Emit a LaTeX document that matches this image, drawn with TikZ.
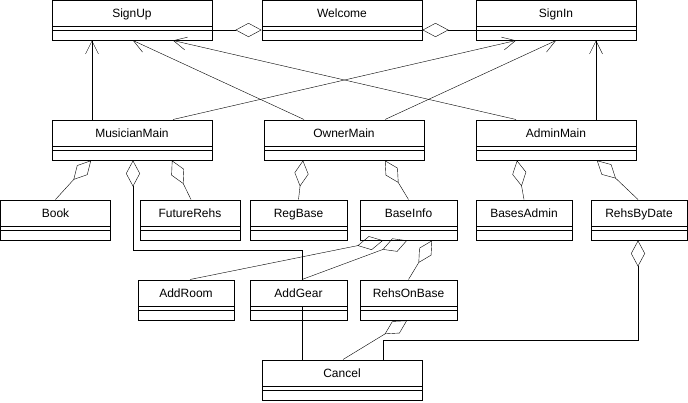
\documentclass[tikz,border=0pt]{standalone}
\usepackage{fontspec}
\setmainfont{Liberation Sans}
\usetikzlibrary{arrows.meta,backgrounds}

\begin{document}
\begin{tikzpicture}[x=1pt,y=-1pt,line width=1pt,
	cls/.style={draw, minimum height=40pt, inner sep=0pt,
		text height=9pt, text depth=14pt,
		font=\fontsize{12pt}{14pt}\selectfont,
		path picture={
			\fill[white] (path picture bounding box.north west) rectangle ([yshift=-26pt]path picture bounding box.north east);
			\draw ([yshift=-26pt]path picture bounding box.north west) -- ([yshift=-26pt]path picture bounding box.north east);
			\draw ([yshift=-30pt]path picture bounding box.north west) -- ([yshift=-30pt]path picture bounding box.north east);
		}},
	assoc/.style={-{Straight Barb[length=13pt,width=13pt]}},
	aggr/.style={-{Diamond[open,length=26pt,width=14pt]}},
	raggr/.style={{Diamond[open,length=26pt,width=14pt]}-}]
			\useasboundingbox (0,0) rectangle (688,402);
			% classes
			\node[cls, minimum width=160pt] (signup) at (132,20) {SignUp};
			\node[cls, minimum width=160pt] (welcome) at (342,20) {Welcome};
			\node[cls, minimum width=160pt] (signin) at (556,20) {SignIn};
			\node[cls, minimum width=160pt] (musicianmain) at (132,140) {MusicianMain};
			\node[cls, minimum width=160pt] (ownermain) at (344,140) {OwnerMain};
			\node[cls, minimum width=160pt] (adminmain) at (556,140) {AdminMain};
			\node[cls, minimum width=110pt] (book) at (55.5,220) {Book};
			\node[cls, minimum width=100pt] (futurerehs) at (190,220) {FutureRehs};
			\node[cls, minimum width=97pt] (regbase) at (298.5,220) {RegBase};
			\node[cls, minimum width=97pt] (baseinfo) at (408.5,220) {BaseInfo};
			\node[cls, minimum width=96pt] (basesadmin) at (524,220) {BasesAdmin};
			\node[cls, minimum width=96pt] (rehsbydate) at (639,220) {RehsByDate};
			\node[cls, minimum width=96pt] (addroom) at (186,300) {AddRoom};
			\node[cls, minimum width=97pt] (addgear) at (298.5,300) {AddGear};
			\node[cls, minimum width=97pt] (rehsonbase) at (408.5,300) {RehsOnBase};
			\node[cls, minimum width=160pt] (cancel) at (342,380) {Cancel};

			\begin{scope}[on background layer]
			% welcome
			\draw[aggr] ([yshift=-10pt]signup.east) -- ([yshift=-10pt]welcome.west);
			\draw[aggr] ([yshift=-10pt]signin.west) -- ([yshift=-10pt]welcome.east);
			% sign up / sign in
			\draw[assoc] ([xshift=-40pt]musicianmain.north) -- ([xshift=-40pt]signup.south);
			\draw[assoc] ([xshift=-40pt]ownermain.north) -- ([xshift=1pt]signup.south);
			\draw[assoc] ([xshift=-40pt]adminmain.north) -- ([xshift=41pt]signup.south);
			\draw[assoc] ([xshift=41pt]musicianmain.north) -- ([xshift=-40pt]signin.south);
			\draw[assoc] ([xshift=41pt]ownermain.north) -- (signin.south);
			\draw[assoc] ([xshift=40pt]adminmain.north) -- ([xshift=40pt]signin.south);
			% main windows
			\draw[aggr] (book.north) -- ([xshift=-41pt]musicianmain.south);
			\draw[aggr] ([xshift=1pt]futurerehs.north) -- ([xshift=40pt]musicianmain.south);
			\draw[aggr] (regbase.north) -- ([xshift=-41pt]ownermain.south);
			\draw[aggr] (baseinfo.north) -- ([xshift=41pt]ownermain.south);
			\draw[aggr] (basesadmin.north) -- ([xshift=-39pt]adminmain.south);
			\draw[aggr] ([xshift=-1pt]rehsbydate.north) -- ([xshift=41pt]adminmain.south);
			% base info
			\draw[aggr] ([xshift=4pt]addroom.north) -- ([xshift=-25.5pt]baseinfo.south);
			\draw[aggr] ([xshift=3.5pt]addgear.north) -- ([xshift=-1.5pt]baseinfo.south);
			\draw[aggr] (rehsonbase.north) -- ([xshift=23.5pt]baseinfo.south);
			% cancel
			\draw[aggr] ([xshift=1pt]cancel.north) -- ([xshift=-1.5pt]rehsonbase.south);
			\draw[raggr] ([xshift=1pt]musicianmain.south) -- ++(0,-90pt) -| ([xshift=-40pt]cancel.north);
			\draw[raggr] ([xshift=-1pt]rehsbydate.south) -- ++(0,-100pt) -| ([xshift=41pt]cancel.north);
			\end{scope}

		\end{tikzpicture}
\end{document}
